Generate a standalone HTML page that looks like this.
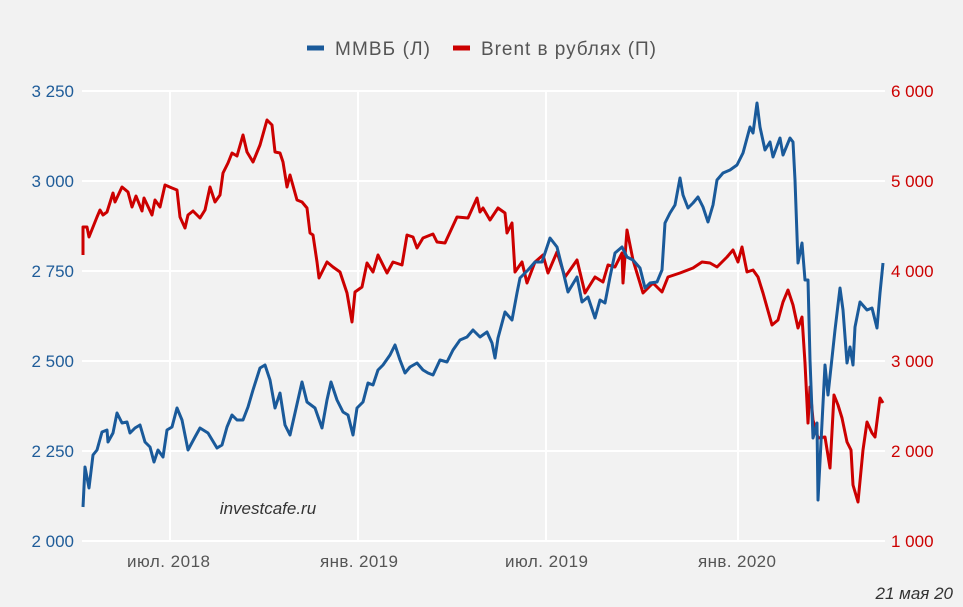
<!DOCTYPE html>
<html><head><meta charset="utf-8"><style>
body{margin:0;background:#f2f2f2;}
svg{display:block;font-family:"Liberation Sans","Noto Sans CJK SC",sans-serif;}
</style></head><body>
<svg width="963" height="607" viewBox="0 0 963 607">
<rect width="963" height="607" fill="#f2f2f2"/>
<g stroke="#ffffff" stroke-width="2">
<line x1="82" y1="91" x2="885" y2="91"/><line x1="82" y1="181" x2="885" y2="181"/><line x1="82" y1="271" x2="885" y2="271"/><line x1="82" y1="361" x2="885" y2="361"/><line x1="82" y1="451" x2="885" y2="451"/><line x1="82" y1="541" x2="885" y2="541"/>
<line x1="170" y1="91" x2="170" y2="541"/><line x1="358" y1="91" x2="358" y2="541"/><line x1="546" y1="91" x2="546" y2="541"/><line x1="738" y1="91" x2="738" y2="541"/>
</g>
<g font-size="17" fill="#1f5c99" text-anchor="end">
<text x="74" y="97">3 250</text><text x="74" y="187">3 000</text><text x="74" y="277">2 750</text><text x="74" y="367">2 500</text><text x="74" y="457">2 250</text><text x="74" y="547">2 000</text>
</g>
<g font-size="17" fill="#cc0000" text-anchor="start">
<text x="891" y="97">6 000</text><text x="891" y="187">5 000</text><text x="891" y="277">4 000</text><text x="891" y="367">3 000</text><text x="891" y="457">2 000</text><text x="891" y="547">1 000</text>
</g>
<g font-size="17" fill="#555">
<text x="127" y="567" textLength="83">июл. 2018</text><text x="320" y="567" textLength="78">янв. 2019</text><text x="505" y="567" textLength="83">июл. 2019</text><text x="698" y="567" textLength="78">янв. 2020</text>
</g>
<text x="268" y="514" font-size="17" font-style="italic" fill="#333" text-anchor="middle">investcafe.ru</text>
<text x="953" y="599" font-size="17" font-style="italic" fill="#333" text-anchor="end">21 мая 20</text>
<g font-size="19" fill="#555">
<line x1="307" y1="48" x2="324" y2="48" stroke="#1a5a9a" stroke-width="5"/>
<text x="335" y="55" textLength="95">ММВБ (Л)</text>
<line x1="453" y1="48" x2="470" y2="48" stroke="#cc0000" stroke-width="5"/>
<text x="481" y="55" textLength="175">Brent в рублях (П)</text>
</g>
<polyline fill="none" stroke="#cc0000" stroke-width="3" stroke-linejoin="round" points="83,255 83,227 87,227 89,237 93,227 97,217 100,210 103,215 107,212 113,193 115,202 122,187 128,192 132,207 136,196 142,211 144,198 152,215 155,200 160,207 165,185 172,188 177,190 180,217 185,228 188,215 193,211 200,218 205,210 210,187 215,202 220,195 223,173 228,163 232,153 237,156 243,135 247,152 253,162 260,145 267,120 272,125 275,152 280,153 283,162 287,187 290,175 297,200 302,202 307,208 310,233 313,235 317,262 319,278 327,262 333,267 340,272 347,293 352,322 355,292 362,287 367,263 373,272 378,255 387,273 393,262 402,265 407,235 413,237 417,248 423,238 433,234 437,242 445,243 457,217 468,218 477,198 480,212 483,208 490,220 498,208 505,213 507,233 512,223 515,272 522,262 527,283 535,262 543,255 548,273 557,252 565,277 570,270 577,260 585,293 595,277 603,282 608,265 615,267 622,253 623,283 627,230 633,260 643,293 653,283 662,292 668,277 680,273 693,268 702,262 710,263 717,267 727,257 733,250 738,262 742,247 747,272 753,270 758,277 763,293 772,325 778,320 783,302 788,290 793,305 798,328 802,317 805,363 808,423 810,387 813,420 818,438 825,437 830,468 834,395 838,405 842,418 847,442 851,450 853,485 858,502 863,450 867,422 872,433 875,437 880,398 883,403"/>
<polyline fill="none" stroke="#1a5a9a" stroke-width="3" stroke-linejoin="round" points="83,507 85,467 89,488 93,455 97,450 102,432 107,430 108,442 113,433 117,413 122,423 127,422 130,433 135,428 140,425 145,442 150,447 154,462 158,450 163,457 167,430 172,427 177,408 182,420 188,450 195,437 200,428 208,433 217,448 222,445 227,427 232,415 237,420 243,420 248,407 253,390 260,368 265,365 270,380 275,408 280,393 285,425 290,435 295,413 302,382 307,402 315,408 322,428 327,400 331,382 337,400 343,412 348,415 353,435 357,408 363,402 368,383 373,385 378,370 383,365 390,355 395,345 400,360 405,373 410,367 417,363 423,370 428,373 433,375 440,360 447,362 453,350 460,340 467,337 473,330 480,337 487,332 492,343 495,358 498,338 505,312 512,320 517,293 520,278 528,270 535,262 542,262 550,238 557,247 562,267 568,292 577,277 582,302 588,297 595,318 600,300 605,303 610,277 615,253 622,247 627,257 633,260 640,268 645,288 650,283 657,282 662,270 665,223 670,213 675,205 680,178 683,195 688,208 693,203 698,197 703,207 708,222 713,205 717,180 723,173 730,170 737,165 743,153 750,127 753,133 757,103 760,127 765,150 770,142 773,157 780,138 783,155 790,138 793,142 795,180 798,263 802,243 805,280 808,280 810,360 813,438 817,423 818,500 822,423 825,365 828,395 832,358 835,330 840,288 843,310 847,363 850,347 853,365 855,327 860,302 867,310 872,308 877,328 880,293 883,263"/>
</svg>
</body></html>
